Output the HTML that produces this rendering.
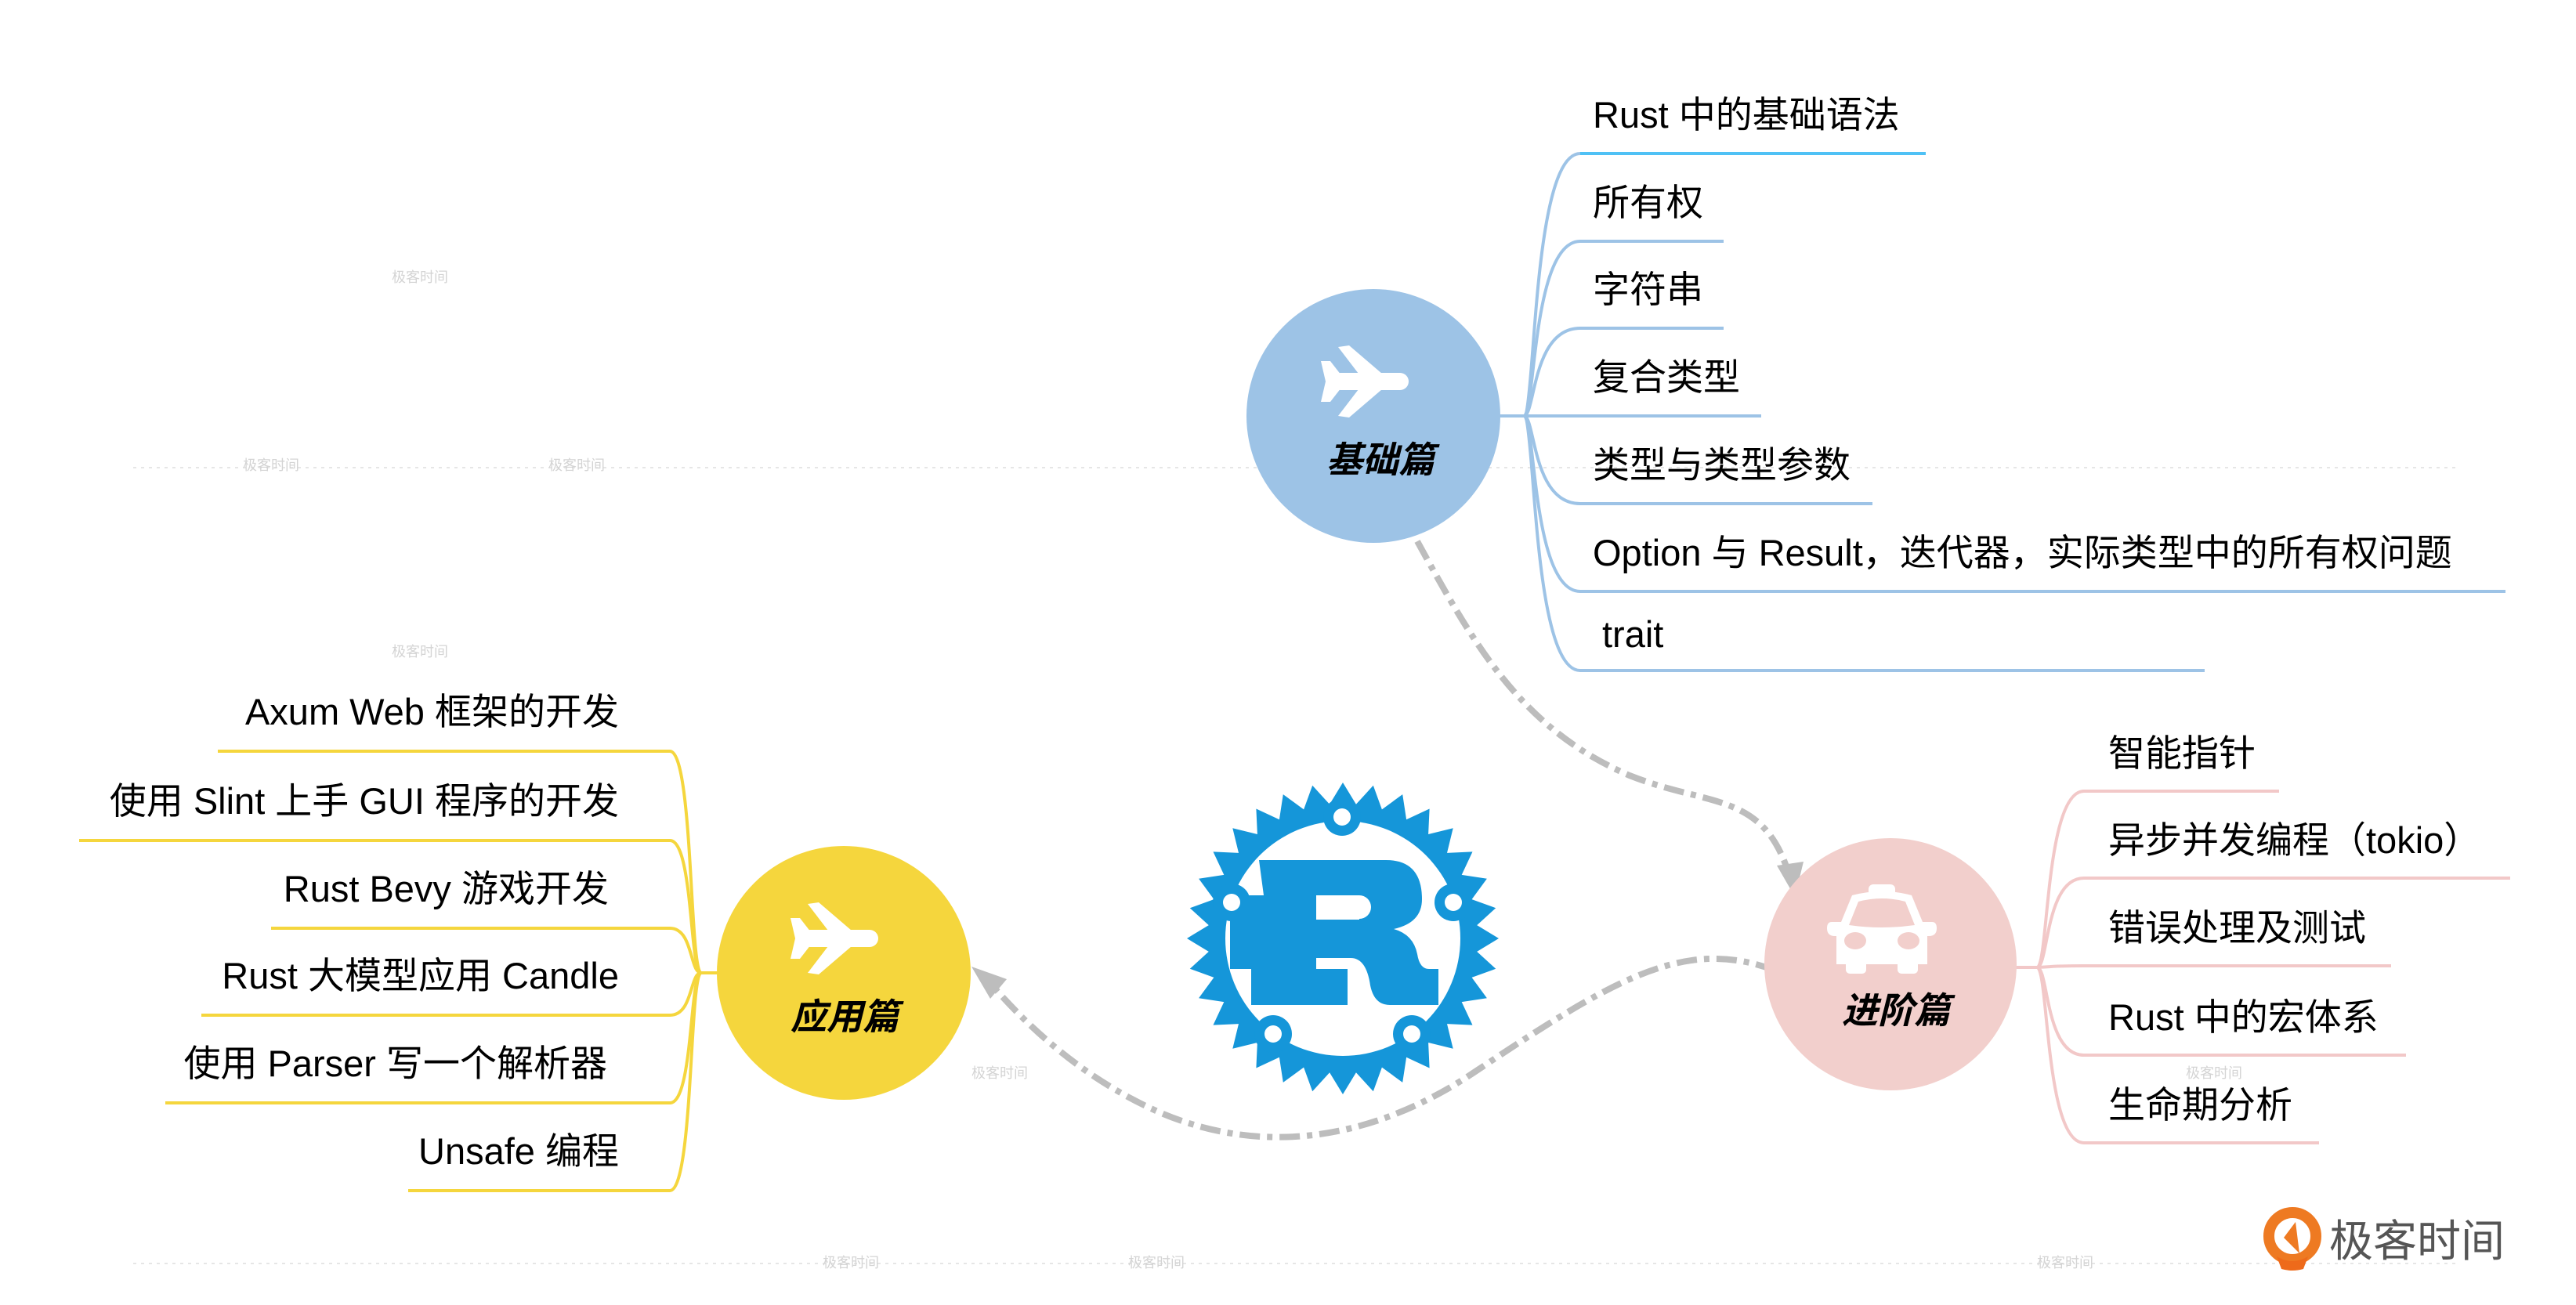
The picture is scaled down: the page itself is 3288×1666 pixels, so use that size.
<!DOCTYPE html>
<html><head><meta charset="utf-8">
<style>
html,body{margin:0;padding:0;background:#fff;}
svg{display:block;}
text{font-family:"Liberation Sans","Noto Sans CJK SC",sans-serif;}
</style></head>
<body>
<svg id="s" width="3288" height="1666" viewBox="0 0 3288 1666" xmlns="http://www.w3.org/2000/svg">
<g stroke="#e6e6e6" stroke-width="2" stroke-dasharray="4 6" fill="none">
<line x1="170" y1="597" x2="3140" y2="597"/>
<line x1="170" y1="1613" x2="3140" y2="1613"/>
</g>
<g font-size="18" fill="#d4d4d4">
<text x="500" y="360">极客时间</text><text x="310" y="600">极客时间</text><text x="700" y="600">极客时间</text>
<text x="500" y="838">极客时间</text><text x="1240" y="1376">极客时间</text><text x="1050" y="1618">极客时间</text>
<text x="1440" y="1618">极客时间</text><text x="2600" y="1618">极客时间</text><text x="2790" y="1376">极客时间</text>
</g>

<g fill="none" stroke="#9dc3e6" stroke-width="4">
<path d="M1915 531 H1945 C1960 531,1955 196,2017 196"/>
<path d="M1945 531 C1960 531,1955 308,2017 308 H2200"/>
<path d="M1945 531 C1960 531,1955 419,2017 419 H2200"/>
<path d="M1945 531 H2248"/>
<path d="M1945 531 C1960 531,1955 643,2017 643 H2390"/>
<path d="M1945 531 C1960 531,1955 755,2017 755 H3198"/>
<path d="M1945 531 C1960 531,1955 856,2017 856 H2814"/>
</g>
<path d="M2017 196 H2458" stroke="#4fc1f5" stroke-width="4"/>
<g font-size="47" fill="#000">
<text x="2033" y="163">Rust 中的基础语法</text>
<text x="2033" y="275">所有权</text>
<text x="2033" y="386">字符串</text>
<text x="2033" y="498">复合类型</text>
<text x="2033" y="610">类型与类型参数</text>
<text x="2033" y="722">Option 与 Result，迭代器，实际类型中的所有权问题</text>
<text x="2045" y="826">trait</text>
</g>

<g fill="none" stroke="#f2c8c8" stroke-width="4">
<path d="M2573 1235 H2600 C2615 1235,2610 1010,2660 1010 H2909"/>
<path d="M2600 1235 C2615 1235,2610 1121,2660 1121 H3204"/>
<path d="M2600 1235 C2615 1235,2610 1233,2660 1233 H3052"/>
<path d="M2600 1235 C2615 1235,2610 1347,2660 1347 H3071"/>
<path d="M2600 1235 C2615 1235,2610 1459,2660 1459 H2960"/>
</g>
<g font-size="47" fill="#000">
<text x="2705" y="978" transform="translate(-14,0)">智能指针</text>
<text x="2691" y="1089">异步并发编程（tokio）</text>
<text x="2691" y="1201">错误处理及测试</text>
<text x="2691" y="1315">Rust 中的宏体系</text>
<text x="2691" y="1427">生命期分析</text>
</g>

<g fill="none" stroke="#f5d63d" stroke-width="4">
<path d="M915 1242 H895 C880 1242,885 959,855 959 H278"/>
<path d="M895 1242 C880 1242,885 1073,855 1073 H101"/>
<path d="M895 1242 C880 1242,885 1185,855 1185 H346"/>
<path d="M895 1242 C880 1242,885 1296,855 1296 H257"/>
<path d="M895 1242 C880 1242,885 1408,855 1408 H211"/>
<path d="M895 1242 C880 1242,885 1520,855 1520 H521"/>
</g>
<g font-size="47" fill="#000" text-anchor="end">
<text x="790" y="925">Axum Web 框架的开发</text>
<text x="790" y="1039">使用 Slint 上手 GUI 程序的开发</text>
<text x="777" y="1151">Rust Bevy 游戏开发</text>
<text x="790" y="1262">Rust 大模型应用 Candle</text>
<text x="775" y="1374">使用 Parser 写一个解析器</text>
<text x="790" y="1486">Unsafe 编程</text>
</g>

<g fill="none" stroke="#bdbdbd" stroke-width="8" stroke-dasharray="26 9 7 9">
<path d="M1809 691 C1880 820,1940 930,2080 990 C2180 1030,2250 1010,2283 1115"/>
<path d="M2266 1239 C2150 1195,2060 1250,1880 1370 C1760 1450,1620 1480,1480 1420 C1400 1385,1330 1330,1270 1262"/>
</g>
<polygon points="2291,1145 2268,1105 2302,1100" fill="#bdbdbd"/>
<polygon points="1240,1234 1285,1250 1264,1275" fill="#bdbdbd"/>

<circle cx="1753" cy="531" r="162" fill="#9dc3e6"/>
<circle cx="2413" cy="1231" r="161" fill="#f2cfcc"/>
<circle cx="1077" cy="1242" r="162" fill="#f5d63d"/>

<defs>
<g id="plane">
<rect x="-42" y="-11" width="98" height="22" rx="11" fill="#fff"/>
<polygon points="-8,-10 -34,-44 -20,-46 22,-10" fill="#fff"/>
<polygon points="-8,10 -34,44 -20,46 22,10" fill="#fff"/>
<polygon points="-56,-26 -44,-26 -30,-8 -30,8 -44,26 -56,26 -50,0" fill="#fff"/>
</g>
</defs>
<use href="#plane" transform="translate(1742,487)"/>
<use href="#plane" transform="translate(1065,1198)"/>

<g transform="translate(2402,1187)" fill="#fff">
<rect x="-17" y="-58" width="34" height="16" rx="6"/>
<path d="M-38 -44 Q0 -54 38 -44 L52 -10 H64 Q70 -10 70 -2 Q70 8 60 8 H58 V44 H-58 V8 H-60 Q-70 8 -70 -2 Q-70 -10 -64 -10 H-52 Z"/>
<rect x="-46" y="38" width="26" height="18" rx="5"/>
<rect x="20" y="38" width="26" height="18" rx="5"/>
<path d="M-30 -36 Q0 -44 30 -36 L42 -6 Q0 -0 -42 -6 Z" fill="#f2cfcc"/>
<ellipse cx="-34" cy="14" rx="14" ry="11" fill="#f2cfcc"/>
<ellipse cx="34" cy="14" rx="14" ry="11" fill="#f2cfcc"/>
</g>

<g font-size="46" font-weight="bold" font-style="italic" fill="#000" text-anchor="middle">
<text x="1762" y="603">基础篇</text>
<text x="2420" y="1306">进阶篇</text>
<text x="1078" y="1314">应用篇</text>
</g>

<g transform="translate(1714,1198)">
<polygon id="gear" fill="#1596d9" points=""/>
<circle r="150" fill="#fff"/>
<g fill="#1596d9">
<circle cx="-1" cy="-155" r="24"/><circle cx="-142" cy="-46" r="24"/><circle cx="141" cy="-46" r="24"/>
<circle cx="-89" cy="122" r="24"/><circle cx="88" cy="122" r="24"/>
<path d="M-107 -100 H55 Q101 -100 101 -50 Q101 -20 65 -12 Q90 -5 95 20 Q98 39 110 39 H122 V85 H60 Q40 85 35 60 Q30 25 10 25 H-34 V39 H6 V85 H-117 V39 H-144 V-55 H-101 Z"/>
</g>
<rect x="-34" y="-55" width="55" height="31" fill="#fff"/>
<circle cx="21" cy="-40" r="15" fill="#fff"/>
<g fill="#fff">
<circle cx="-1" cy="-155" r="11"/><circle cx="-142" cy="-46" r="11"/><circle cx="141" cy="-46" r="11"/>
<circle cx="-89" cy="122" r="11"/><circle cx="88" cy="122" r="11"/>
</g>
</g>

<g>
<circle cx="2926" cy="1578" r="30" fill="none" stroke="#ee7a22" stroke-width="14"/>
<polygon points="2915,1580 2930,1560 2935,1600" fill="#ee7a22"/>
<path d="M2906 1604 Q2926 1616 2946 1604 L2940 1620 Q2926 1624 2912 1620 Z" fill="#ee6a1a"/>
<text x="2973" y="1604" font-size="56" fill="#555">极客时间</text>
</g>
</svg>
<script>
(function(){var n=32,ro=199,ri=172,p=[];for(var i=0;i<n;i++){var a=2*Math.PI*i/n-Math.PI/2,h=Math.PI/n;
p.push((ri*Math.cos(a-h)).toFixed(1)+','+(ri*Math.sin(a-h)).toFixed(1));
p.push((ro*Math.cos(a)).toFixed(1)+','+(ro*Math.sin(a)).toFixed(1));}
document.getElementById('gear').setAttribute('points',p.join(' '));})();
</script>
</body></html>
